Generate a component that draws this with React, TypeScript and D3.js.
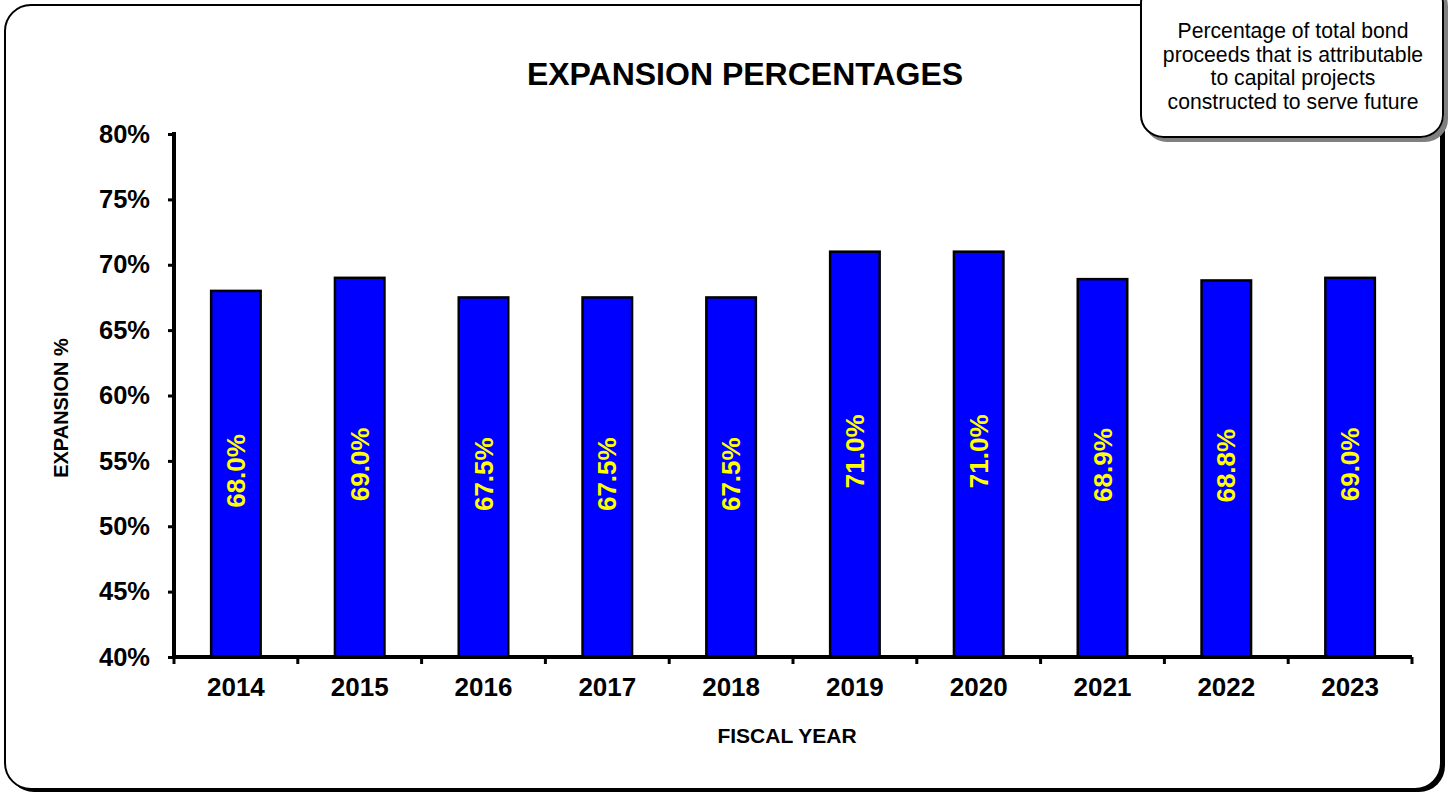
import * as React from "react";
import * as d3 from "d3";

const years: string[] = ["2014", "2015", "2016", "2017", "2018", "2019", "2020", "2021", "2022", "2023"];
const expansion: number[] = [68.0, 69.0, 67.5, 67.5, 67.5, 71.0, 71.0, 68.9, 68.8, 69.0];
const yTicks: number[] = [40, 45, 50, 55, 60, 65, 70, 75, 80];
const noteLines: string[] = [
    "Percentage of total bond",
    "proceeds that is attributable",
    "to capital projects",
    "constructed to serve future",
];

const W = 1450;
const H = 796;
const margin = { top: 134, right: 38, bottom: 139, left: 174 };
const font = "'Liberation Sans', Arial, sans-serif";

export default function App(): JSX.Element {
    const ref = React.useRef<SVGSVGElement>(null);

    React.useEffect(() => {
        const svg = d3.select(ref.current);
        svg.selectAll("*").remove();

        const defs = svg.append("defs");
        defs.append("filter").attr("id", "shade")
            .append("feDropShadow")
            .attr("dx", 4).attr("dy", 4).attr("stdDeviation", 0.6)
            .attr("flood-color", "#808080").attr("flood-opacity", 1);

        // outer frame with shadow
        svg.append("rect")
            .attr("x", 8).attr("y", 8).attr("width", 1437).attr("height", 784)
            .attr("rx", 26).attr("fill", "black");
        svg.append("rect")
            .attr("x", 5).attr("y", 5).attr("width", 1436).attr("height", 784)
            .attr("rx", 26).attr("fill", "white").attr("stroke", "black").attr("stroke-width", 2);

        const innerW = W - margin.left - margin.right;
        const innerH = H - margin.top - margin.bottom;

        const x = d3.scaleBand<string>().domain(years).range([0, innerW]).paddingInner(0.6).paddingOuter(0.3);
        const xb = d3.scaleBand<string>().domain(years).range([0, innerW]);
        const y = d3.scaleLinear().domain([40, 80]).range([innerH, 0]);

        const g = svg.append("g").attr("transform", `translate(${margin.left},${margin.top})`);

        // bars
        g.selectAll(".bar").data(expansion).enter().append("rect")
            .attr("x", (_d, i) => x(years[i]) as number)
            .attr("y", (d) => y(d))
            .attr("width", x.bandwidth())
            .attr("height", (d) => innerH - y(d))
            .attr("fill", "#0000ff")
            .attr("stroke", "black").attr("stroke-width", 2.5);

        // value labels
        g.selectAll(".lbl").data(expansion).enter().append("text")
            .attr("transform", (d, i) => {
                const cx = (x(years[i]) as number) + x.bandwidth() / 2;
                const cy = (y(d) + innerH) / 2 - 3;
                return `translate(${cx + 9},${cy}) rotate(-90)`;
            })
            .attr("text-anchor", "middle")
            .attr("font-family", font).attr("font-weight", "bold").attr("font-size", 26)
            .attr("fill", "#ffff00")
            .text((d) => `${d.toFixed(1)}%`);

        // y axis
        const yAxis = g.append("g").call(
            d3.axisLeft(y).tickValues(yTicks).tickSize(6).tickPadding(18).tickFormat((d) => `${d}%`)
        );
        yAxis.select(".domain").attr("stroke-width", 4).attr("d", `M0,-2V${innerH + 2}`);
        yAxis.selectAll(".tick line").attr("stroke-width", 3);
        yAxis.selectAll(".tick text")
            .attr("font-family", font).attr("font-weight", "bold").attr("font-size", 25.5).attr("fill", "black");

        // x axis
        const xAxis = g.append("g").attr("transform", `translate(0,${innerH})`).call(
            d3.axisBottom(xb).tickSize(0).tickPadding(21)
        );
        xAxis.select(".domain").attr("stroke-width", 4).attr("d", `M-2,0H${innerW}`);
        xAxis.selectAll(".tick text")
            .attr("font-family", font).attr("font-weight", "bold").attr("font-size", 26).attr("fill", "black");
        const edges: number[] = years.map((yr) => xb(yr) as number).concat([innerW]);
        xAxis.selectAll(".edge").data(edges).enter().append("line")
            .attr("x1", (d) => d).attr("x2", (d) => d)
            .attr("y1", 0).attr("y2", 7)
            .attr("stroke", "black").attr("stroke-width", 3);

        // titles
        svg.append("text")
            .attr("x", 745).attr("y", 85).attr("text-anchor", "middle")
            .attr("font-family", font).attr("font-weight", "bold").attr("font-size", 32)
            .text("EXPANSION PERCENTAGES");
        svg.append("text")
            .attr("x", 787).attr("y", 743).attr("text-anchor", "middle")
            .attr("font-family", font).attr("font-weight", "bold").attr("font-size", 21)
            .text("FISCAL YEAR");
        svg.append("text")
            .attr("transform", "translate(68,408) rotate(-90)").attr("text-anchor", "middle")
            .attr("font-family", font).attr("font-weight", "bold").attr("font-size", 20)
            .text("EXPANSION %");

        // note box
        svg.append("rect")
            .attr("x", 1141).attr("y", -20).attr("width", 302).attr("height", 157)
            .attr("rx", 22).attr("fill", "white").attr("stroke", "black").attr("stroke-width", 2)
            .attr("filter", "url(#shade)");
        svg.append("g").selectAll("text").data(noteLines).enter().append("text")
            .attr("x", 1293).attr("y", (_d, i) => 38 + i * 23.5)
            .attr("text-anchor", "middle")
            .attr("font-family", font).attr("font-size", 21.2)
            .text((d) => d);
    }, []);

    return <svg ref={ref} width={W} height={H} style={{ display: "block", position: "absolute", left: 0, top: 0 }} />;
}
